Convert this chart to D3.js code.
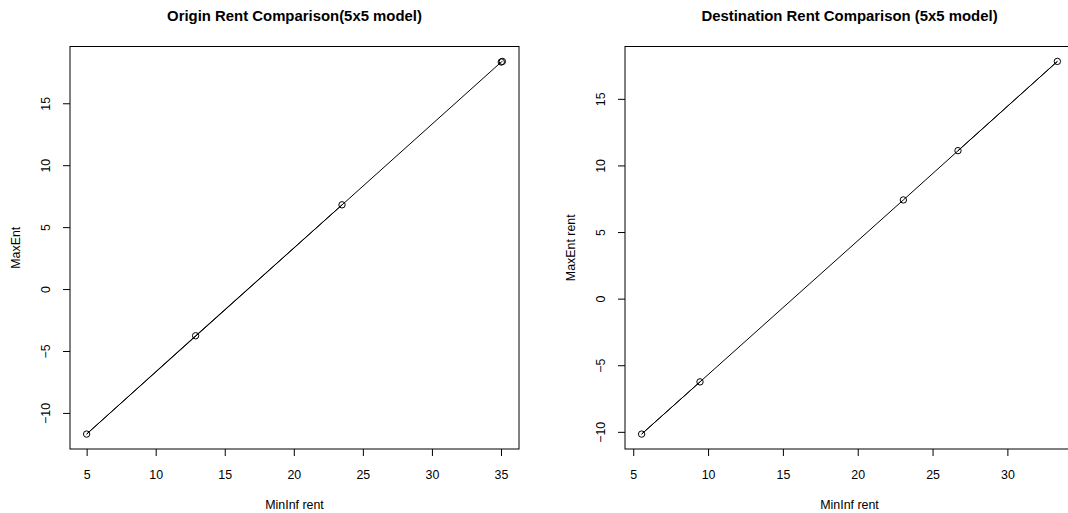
<!DOCTYPE html>
<html>
<head>
<meta charset="utf-8">
<script src="https://cdn.jsdelivr.net/npm/d3@7"></script>
<style>
  body { margin: 0; background: #fff; }
  text { font-family: "Liberation Sans", Arial, sans-serif; fill: #000; }
</style>
</head>
<body>
<svg id="chart"></svg>
<script>
const W = 1068, H = 513

// points in the order they were drawn (line goes back and forth)
const originMinInf = [23.49, 12.89, 5.0, 35.02, 35.1]
const originMaxEnt = [6.8, -3.77, -11.71, 18.33, 18.38]
const destMinInf = [9.46, 5.56, 23.05, 33.34, 26.7]
const destMaxEnt = [-6.25, -10.17, 7.41, 17.81, 11.11]

const originXTicks = [5, 10, 15, 20, 25, 30, 35]
const originYTicks = [-10, -5, 0, 5, 10, 15]
const destXTicks = [5, 10, 15, 20, 25, 30]
const destYTicks = [-10, -5, 0, 5, 10, 15]

const panels = [
    {title: "Origin Rent Comparison(5x5 model)", xlab: "MinInf rent", ylab: "MaxEnt",
        xs: originMinInf, ys: originMaxEnt, xt: originXTicks, yt: originYTicks, off: 0},
    {title: "Destination Rent Comparison (5x5 model)", xlab: "MinInf rent", ylab: "MaxEnt rent",
        xs: destMinInf, ys: destMaxEnt, xt: destXTicks, yt: destYTicks, off: 555}
]

const box = {left: 70, right: 519, top: 46.5, bottom: 449}

const svg = d3.select('#chart').attr('width', W).attr('height', H)
svg.append('rect').attr('width', W).attr('height', H).attr('fill', '#fff')

// R style axis range: data extent padded by 4%
function pad(ext) {
    const r = ext[1] - ext[0]
    return [ext[0] - 0.04 * r, ext[1] + 0.04 * r]
}

const minus = (v) => String(v).replace('-', '\u2212')

panels.forEach((p) => {
    const g = svg.append('g').attr('transform', `translate(${p.off},0)`)

    const x = d3.scaleLinear().domain(pad(d3.extent(p.xs))).range([box.left, box.right])
    const y = d3.scaleLinear().domain(pad(d3.extent(p.ys))).range([box.bottom, box.top])

    g.append('rect')
        .attr('x', box.left).attr('y', box.top)
        .attr('width', box.right - box.left).attr('height', box.bottom - box.top)
        .attr('fill', 'none').attr('stroke', '#000').attr('stroke-width', 1)

    // x axis
    const xa = g.append('g').attr('transform', `translate(0,${box.bottom})`)
        .call(d3.axisBottom(x).tickValues(p.xt).tickSize(7).tickPadding(14).tickFormat(minus))
    xa.select('.domain').remove()
    xa.selectAll('text').attr('font-size', 12.4).attr('font-family', 'Liberation Sans')

    // y axis, labels rotated like base R
    const ya = g.append('g').attr('transform', `translate(${box.left},0)`)
        .call(d3.axisLeft(y).tickValues(p.yt).tickSize(7).tickFormat(minus))
    ya.select('.domain').remove()
    ya.selectAll('text')
        .attr('font-size', 12.4).attr('font-family', 'Liberation Sans')
        .attr('x', null).attr('dy', null)
        .attr('text-anchor', 'middle')
        .attr('transform', 'translate(-20,0) rotate(-90)')

    const line = d3.line().x((d) => x(d[0])).y((d) => y(d[1]))
    const pts = p.xs.map((v, i) => [v, p.ys[i]])

    g.append('path')
        .attr('d', line(pts))
        .attr('fill', 'none').attr('stroke', '#000').attr('stroke-width', 1)

    g.selectAll('circle.pt')
        .data(pts)
        .enter()
        .append('circle')
        .attr('cx', (d) => x(d[0]))
        .attr('cy', (d) => y(d[1]))
        .attr('r', 3.2)
        .attr('fill', 'none').attr('stroke', '#000').attr('stroke-width', 1)

    const cx = (box.left + box.right) / 2
    g.append('text')
        .attr('x', cx).attr('y', 20.5)
        .attr('text-anchor', 'middle')
        .attr('font-size', 14.9).attr('font-weight', 'bold')
        .text(p.title)

    g.append('text')
        .attr('x', cx).attr('y', 509)
        .attr('text-anchor', 'middle')
        .attr('font-size', 12.4)
        .text(p.xlab)

    g.append('text')
        .attr('transform', `translate(20,${(box.top + box.bottom) / 2}) rotate(-90)`)
        .attr('text-anchor', 'middle')
        .attr('font-size', 12.4)
        .text(p.ylab)
})
</script>
</body>
</html>
